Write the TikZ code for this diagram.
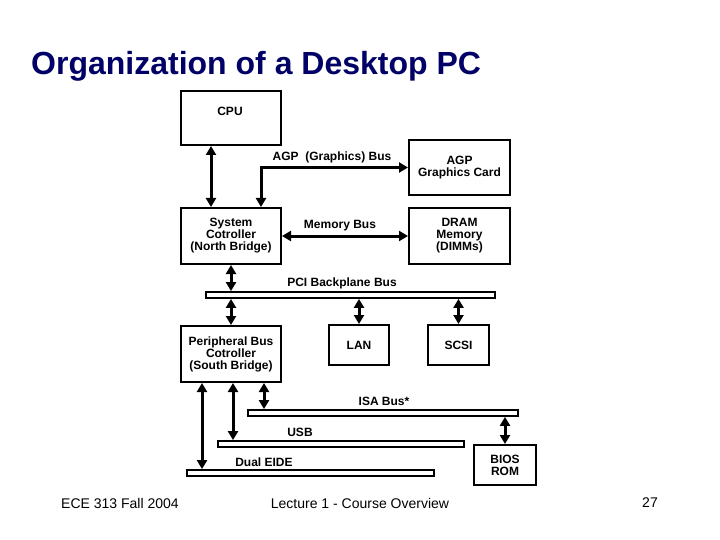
\documentclass[tikz,border=0pt]{standalone}
\usepackage{fontspec}
\setmainfont{Liberation Sans}
\usetikzlibrary{arrows.meta,calc}
\definecolor{titleblue}{RGB}{0,0,102}
\tikzset{
  box/.style={draw=black, line width=2pt, fill=white, inner sep=0pt, align=center,
    font=\fontsize{12}{12}\selectfont\bfseries},
  busbar/.style={draw=black, line width=1.8pt, fill=white, inner sep=0pt, minimum height=6pt},
  lbl/.style={inner sep=0pt, font=\fontsize{12}{12}\selectfont\bfseries},
  link/.style={line width=3pt, {Triangle[length=9pt,width=10pt]}-{Triangle[length=9pt,width=10pt]}},
  foot/.style={inner sep=0pt, font=\fontsize{14}{16}\selectfont}
}
\begin{document}
\begin{tikzpicture}[x=1pt,y=-1pt]
\useasboundingbox (0,0) rectangle (720,540);
% title
\node[anchor=base west, inner sep=0pt, text=titleblue, font=\fontsize{32}{36}\selectfont\bfseries] (title) at (31,75) {Organization of a Desktop PC};
% boxes
\node[box, minimum width=100pt, minimum height=54pt] (cpu) at (231,118) {};
\node[lbl] (cputxt) at (230,111) {CPU};
\node[box, minimum width=100pt, minimum height=56pt] (nb) at (231,236) {System\\Cotroller\\(North Bridge)};
\node[box, minimum width=101pt, minimum height=55pt] (agp) at (459.5,167.5) {AGP\\Graphics Card};
\node[box, minimum width=101pt, minimum height=56pt] (dram) at (459.5,236) {DRAM\\Memory\\(DIMMs)};
\node[busbar, minimum width=289pt] (pci) at (350.5,295) {};
\node[box, minimum width=100pt, minimum height=56pt] (sb) at (231,354) {Peripheral Bus\\Cotroller\\(South Bridge)};
\node[box, minimum width=60pt, minimum height=40pt] (lan) at (359,345) {LAN};
\node[box, minimum width=61pt, minimum height=40pt] (scsi) at (458.5,345) {SCSI};
\node[busbar, minimum width=270pt] (isa) at (383,413) {};
\node[busbar, minimum width=246pt] (usb) at (341,444) {};
\node[busbar, minimum width=247pt] (eide) at (310.5,473) {};
\node[box, minimum width=62pt, minimum height=40pt] (bios) at (505,465) {BIOS\\ROM};
% bus labels
\node[lbl] (agpl) at (332,157) {AGP\ \ (Graphics) Bus};
\node[lbl] (meml) at (340,226) {Memory Bus};
\node[lbl] (pcil) at (342,283) {PCI Backplane Bus};
\node[lbl] (isal) at (384,401) {ISA Bus*};
\node[lbl] (usbl) at (300,432) {USB};
\node[lbl] (eidel) at (264,462) {Dual EIDE};
% connectors
\draw[link] ([xshift=31pt]cpu.south west) -- ([xshift=31pt]nb.north west);
\draw[link] (agp.west) -| ([xshift=81pt]nb.north west);
\draw[link] (nb.east) -- (dram.west);
\draw[link] (nb.south) -- (nb.south |- pci.north);
\draw[link] (sb.north |- pci.south) -- (sb.north);
\draw[link] (lan.north |- pci.south) -- (lan.north);
\draw[link] (scsi.north |- pci.south) -- (scsi.north);
\coordinate (isaT) at ([xshift=84pt]sb.south west);
\coordinate (usbT) at ([xshift=53pt]sb.south west);
\coordinate (eideT) at ([xshift=22pt]sb.south west);
\draw[link] (isaT) -- (isaT |- isa.north);
\draw[link] (usbT) -- (usbT |- usb.north);
\draw[link] (eideT) -- (eideT |- eide.north);
\draw[link] (bios.north |- isa.south) -- (bios.north);
% footer
\node[foot] (f1) at (120,503) {ECE 313 Fall 2004};
\node[foot] (f2) at (360,503) {Lecture 1 - Course Overview};
\node[foot] (f3) at (650,503) {27};
\end{tikzpicture}
\end{document}
